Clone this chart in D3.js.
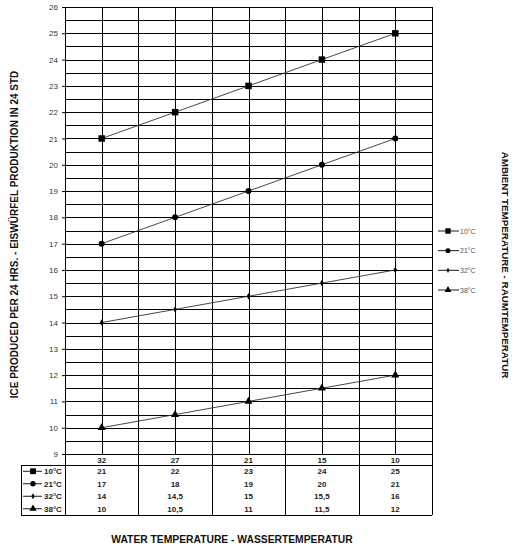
<!DOCTYPE html>
<html><head><meta charset="utf-8">
<script src="https://cdn.jsdelivr.net/npm/d3@7"></script>
<style>body{margin:0;background:#fff}svg{display:block}text{font-family:"Liberation Sans",Arial,sans-serif}</style>
</head><body>
<svg id="c" width="516" height="547"></svg>
<script>
const waterTemps = ["32","27","21","15","10"];
const seriesNames = ["10°C","21°C","32°C","38°C"];
const s10 = [21,22,23,24,25];
const s21 = [17,18,19,20,21];
const s32 = [14,14.5,15,15.5,16];
const s38 = [10,10.5,11,11.5,12];
const yTicks = [9,10,11,12,13,14,15,16,17,18,19,20,21,22,23,24,25,26];
const tableLabels = [
  ["21","22","23","24","25"],
  ["17","18","19","20","21"],
  ["14","14,5","15","15,5","16"],
  ["10","10,5","11","11,5","12"]
];
const series = [s10,s21,s32,s38];
const markerTypes = [d3.symbolSquare, d3.symbolCircle, d3.symbolDiamond, d3.symbolTriangle];
const markerSizes = [42, 28, 12, 28];

const svg = d3.select("#c");
const L=65, R=432, T=7, B=454, TB=515, TL=21, HB=465;
const x = d3.scaleBand().domain(waterTemps).range([L,R]).padding(0);
const y = d3.scaleLinear().domain([9,26]).range([B,T]);
const bw = x.bandwidth();

const grid = svg.append("g").attr("stroke","#000").attr("stroke-width",1).attr("shape-rendering","crispEdges");
d3.range(9,26.01,0.5).forEach(v=>{
  grid.append("line").attr("x1",L).attr("x2",R).attr("y1",Math.round(y(v))+0.5).attr("y2",Math.round(y(v))+0.5);
});
waterTemps.forEach((w,i)=>{
  const x0=x(w), xc=x(w)+bw/2;
  if(i>0) grid.append("line").attr("x1",Math.round(x0)+0.5).attr("x2",Math.round(x0)+0.5).attr("y1",T).attr("y2",TB);
  grid.append("line").attr("x1",Math.round(xc)+0.5).attr("x2",Math.round(xc)+0.5).attr("y1",T).attr("y2",B);
});
grid.append("line").attr("x1",L+0.5).attr("x2",L+0.5).attr("y1",T).attr("y2",TB);
grid.append("line").attr("x1",R+0.5).attr("x2",R+0.5).attr("y1",T).attr("y2",TB);
grid.append("line").attr("x1",TL+0.5).attr("x2",R).attr("y1",HB+0.5).attr("y2",HB+0.5);
grid.append("line").attr("x1",TL+0.5).attr("x2",R).attr("y1",TB+0.5).attr("y2",TB+0.5);
grid.append("line").attr("x1",TL+0.5).attr("x2",TL+0.5).attr("y1",HB).attr("y2",TB+1);

const ya = svg.append("g").attr("transform",`translate(${L},0)`)
  .call(d3.axisLeft(y).tickValues(yTicks).tickSize(3).tickPadding(4).tickFormat(d3.format("d")));
ya.select(".domain").remove();
ya.selectAll("line").attr("stroke","#000");
ya.selectAll("text").attr("font-size",8).attr("fill","#333").attr("font-family","Liberation Sans, Arial, sans-serif");

svg.append("g").selectAll("text").data(waterTemps).join("text")
  .attr("x",d=>x(d)+bw/2).attr("y",(B+HB)/2+3)
  .attr("text-anchor","middle").attr("font-size",8).attr("font-weight","bold").attr("fill","#222")
  .text(d=>d);

const rowY = d3.scaleBand().domain(seriesNames).range([HB,TB]);
seriesNames.forEach((n,si)=>{
  const cy=rowY(n)+rowY.bandwidth()/2;
  const g=svg.append("g");
  g.selectAll("text.v").data(tableLabels[si]).join("text").attr("class","v")
    .attr("x",(d,i)=>x(waterTemps[i])+bw/2).attr("y",cy+3)
    .attr("text-anchor","middle").attr("font-size",8).attr("font-weight","bold").attr("fill","#222").text(d=>d);
  g.append("line").attr("x1",23).attr("x2",42).attr("y1",cy).attr("y2",cy).attr("stroke","#000").attr("stroke-width",0.9);
  g.append("path").attr("d",d3.symbol(markerTypes[si],markerSizes[si]*0.8)()).attr("transform",`translate(33,${cy})`).attr("fill","#000");
  g.append("text").attr("x",44).attr("y",cy+3).attr("font-size",8).attr("font-weight","bold").attr("fill","#222").text(n);
});

const line = d3.line().x((d,i)=>x(waterTemps[i])+bw/2).y(d=>y(d));
series.forEach((s,si)=>{
  svg.append("path").datum(s).attr("d",line).attr("fill","none").attr("stroke","#333").attr("stroke-width",0.9);
  svg.append("g").selectAll("path").data(s).join("path")
    .attr("d",d3.symbol(markerTypes[si],markerSizes[si])())
    .attr("transform",(d,i)=>`translate(${x(waterTemps[i])+bw/2},${y(d)})`).attr("fill","#000");
});

const legY = d3.scalePoint().domain(seriesNames).range([231,290]);
seriesNames.forEach((n,si)=>{
  const cy=legY(n);
  svg.append("line").attr("x1",438).attr("x2",459).attr("y1",cy).attr("y2",cy).attr("stroke","#000").attr("stroke-width",0.9);
  svg.append("path").attr("d",d3.symbol(markerTypes[si],markerSizes[si]*0.7)()).attr("transform",`translate(448,${cy})`).attr("fill","#000");
  svg.append("text").attr("x",460).attr("y",cy+2.5).attr("font-size",7).attr("fill","#555").text(n);
});

svg.append("text").attr("transform","translate(18,234.5) rotate(-90)").attr("text-anchor","middle")
  .attr("font-size",10).attr("font-weight","bold").attr("fill","#111")
  .text("ICE PRODUCED PER 24 HRS. - EISWÜRFEL PRODUKTION IN 24 STD");
svg.append("text").attr("transform","translate(502,265) rotate(90)").attr("text-anchor","middle")
  .attr("font-size",9.8).attr("font-weight","bold").attr("fill","#111")
  .text("AMBIENT TEMPERATURE - RAUMTEMPERATUR");
svg.append("text").attr("x",232).attr("y",543).attr("text-anchor","middle")
  .attr("font-size",10.3).attr("font-weight","bold").attr("fill","#111")
  .text("WATER TEMPERATURE - WASSERTEMPERATUR");
</script>
</body></html>
